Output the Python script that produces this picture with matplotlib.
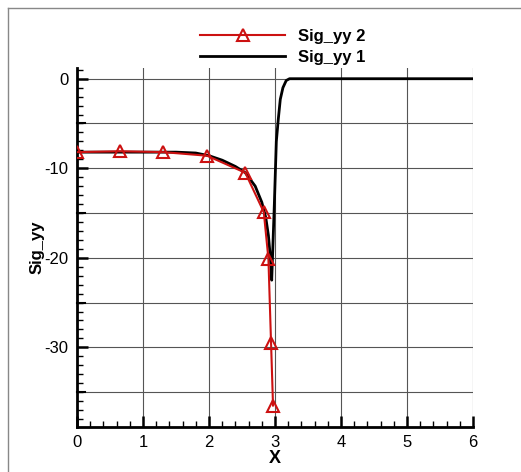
import numpy as np
import matplotlib.pyplot as plt
from matplotlib.lines import Line2D
from matplotlib.ticker import MultipleLocator

plt.rcParams['font.family'] = ['Liberation Sans', 'DejaVu Sans']
plt.rcParams['axes.unicode_minus'] = False

# --- Data ---
x_sig2 = [0.0, 0.65, 1.31, 1.97, 2.55, 2.83, 2.90, 2.94, 2.97]
y_sig2 = [-8.2, -8.1, -8.2, -8.6, -10.5, -14.9, -20.1, -29.5, -36.5]

x_sig1 = [0.0, 0.5, 1.0, 1.5, 1.8, 2.0, 2.2, 2.4, 2.55, 2.7, 2.8, 2.86,
          2.90, 2.93, 2.95, 2.99, 3.02, 3.05, 3.08, 3.12, 3.17, 3.22, 4.0, 5.0, 6.0]
y_sig1 = [-8.2, -8.2, -8.2, -8.2, -8.3, -8.6, -9.1, -9.8, -10.5, -12.0, -13.8, -15.5,
          -17.5, -20.0, -22.5, -14.0, -7.0, -4.5, -2.3, -1.0, -0.2, 0.0, 0.0, 0.0, 0.0]

fig = plt.figure(figsize=(5.21, 4.72), dpi=100)
ax = fig.add_axes([0.1478, 0.0953, 0.7601, 0.7607])

ax.plot(x_sig2, y_sig2, color='#cc1111', lw=1.5, marker='^', markersize=9,
        markerfacecolor='none', markeredgecolor='#cc1111', markeredgewidth=1.5,
        label='Sig_yy 2', zorder=4)
ax.plot(x_sig1, y_sig1, color='black', lw=2.0, label='Sig_yy 1', zorder=3)

ax.set_xlim(0, 6)
ax.set_ylim(-38.9, 1.2)
ax.xaxis.set_major_locator(MultipleLocator(1))
ax.xaxis.set_minor_locator(MultipleLocator(0.2))
ax.yaxis.set_major_locator(MultipleLocator(10))
ax.yaxis.set_minor_locator(MultipleLocator(1))

# grid: every 1 in x, every 5 in y
for gx in range(1, 7):
    ax.axvline(gx, color='#555555', lw=0.8, zorder=1)
for gy in np.arange(0, -40, -5):
    ax.axhline(gy, xmax=1.0, color='#555555', lw=0.8, zorder=1)

# mid-size ticks at -5, -15, ... on the y axis
for gy in np.arange(-5, -40, -10):
    ax.plot([0, 0.12], [gy, gy], color='black', lw=1.5, clip_on=False, zorder=5)

ax.spines['top'].set_visible(False)
ax.spines['right'].set_visible(False)
ax.spines['left'].set_linewidth(2)
ax.spines['bottom'].set_linewidth(2)
ax.tick_params(which='major', direction='in', length=8, width=1.8, labelsize=12, pad=6)
ax.tick_params(which='minor', direction='in', length=4, width=1.0)

ax.set_xlabel('X', fontsize=13, fontweight='bold', labelpad=0)
ax.set_ylabel('Sig_yy', fontsize=12, fontweight='bold', labelpad=0)

ax.legend(loc='center', bbox_to_anchor=(0.543, 0.9), bbox_transform=fig.transFigure,
          frameon=False, handlelength=5.1, labelspacing=0.35, handletextpad=0.8,
          prop={'weight': 'bold', 'size': 12})

# thin grey frame around the picture
fig.add_artist(Line2D([8 / 521, 8 / 521], [0, 1 - 8 / 472], transform=fig.transFigure,
                      color='#888888', lw=1))
fig.add_artist(Line2D([8 / 521, 1], [1 - 8 / 472, 1 - 8 / 472], transform=fig.transFigure,
                      color='#888888', lw=1))

plt.savefig('out.png', dpi=100)
